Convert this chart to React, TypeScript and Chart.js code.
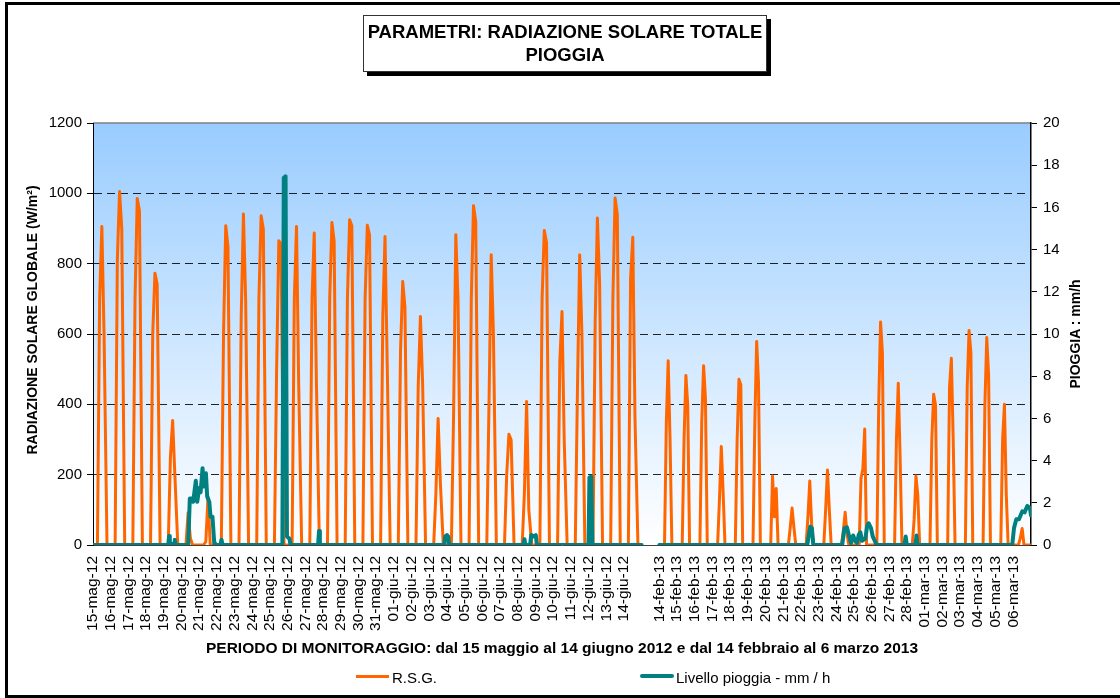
import React, { useEffect, useRef } from 'react';
import { Chart, registerables } from 'chart.js';

Chart.register(...registerables);

const FONT = "'Liberation Sans', Arial, Helvetica, sans-serif";

// Category (day) labels; one empty slot marks the interruption between the two campaigns
const dayLabels = [
  '15-mag-12', '16-mag-12', '17-mag-12', '18-mag-12', '19-mag-12', '20-mag-12', '21-mag-12', '22-mag-12',
  '23-mag-12', '24-mag-12', '25-mag-12', '26-mag-12', '27-mag-12', '28-mag-12', '29-mag-12', '30-mag-12',
  '31-mag-12', '01-giu-12', '02-giu-12', '03-giu-12', '04-giu-12', '05-giu-12', '06-giu-12', '07-giu-12',
  '08-giu-12', '09-giu-12', '10-giu-12', '11-giu-12', '12-giu-12', '13-giu-12', '14-giu-12', '',
  '14-feb-13', '15-feb-13', '16-feb-13', '17-feb-13', '18-feb-13', '19-feb-13', '20-feb-13', '21-feb-13',
  '22-feb-13', '23-feb-13', '24-feb-13', '25-feb-13', '26-feb-13', '27-feb-13', '28-feb-13', '01-mar-13',
  '02-mar-13', '03-mar-13', '04-mar-13', '05-mar-13', '06-mar-13',
];

// Hours of the day at which the radiation samples are placed (0 at sunrise / sunset)
const hoursSummer = [6, 9, 12, 15, 19];
const hoursWinter = [7, 9.5, 12, 14.5, 17];

// R.S.G. (W/m2) per day: mid-morning, midday, mid-afternoon
const rsgMorning = [
  700, 810, 700, 600, 250, 92, 10, 600, 650, 700, 500, 700, 700, 700, 700, 700,
  650, 550, 450, 147, 376, 700, 400, 200, 147, 700, 520, 450, 636, 700, 758, null,
  350, 300, 350, 128, 300, 350, 196, 50, 80, 100, 40, 190, 400, 300, 72, 300,
  449, 450, 400, 300, 20,
];
const rsgNoon = [
  906, 1005, 985, 773, 354, 20, 137, 908, 941, 936, 865, 906, 887, 917, 925, 909,
  877, 749, 650, 360, 882, 965, 825, 315, 408, 894, 664, 825, 930, 987, 875, null,
  524, 482, 510, 280, 471, 579, 80, 105, 182, 213, 93, 216, 634, 460, 196, 429,
  531, 610, 590, 400, 47,
];
const rsgAfternoon = [
  600, 900, 950, 742, 200, 0, 0, 850, 700, 898, 857, 450, 460, 865, 908, 882,
  512, 678, 459, 180, 700, 920, 600, 299, 100, 860, 300, 600, 745, 940, 358, null,
  300, 398, 418, 150, 455, 460, 161, 50, 60, 100, 30, 330, 546, 250, 142, 398,
  300, 546, 484, 142, 0,
];

// Rain level (mm/h): [time in days from 15-mag-12 00:00 (slot units), value]
const rainSamples: [number, number | null][] = [
  [0, 0], [4.26, 0], [4.3, 0.43], [4.34, 0.1], [4.58, 0], [4.62, 0.25], [4.66, 0],
  [5.38, 0], [5.47, 2.2], [5.57, 2.2], [5.66, 2.05], [5.81, 3.04], [5.89, 2.05], [6.0, 2.7],
  [6.08, 2.5], [6.19, 3.64], [6.26, 2.77], [6.38, 3.4], [6.45, 2.3], [6.57, 2.05], [6.64, 1.34],
  [6.75, 1.34], [6.85, 0.1], [6.89, 0],
  [7.2, 0], [7.26, 0.25], [7.32, 0],
  [10.7, 0], [10.78, 17.4], [10.88, 17.47], [10.96, 0.4], [11.1, 0.3], [11.16, 0],
  [12.72, 0], [12.77, 0.66], [12.82, 0],
  [19.85, 0], [19.9, 0.4], [20.0, 0.47], [20.07, 0.4], [20.12, 0],
  [24.33, 0], [24.38, 0.27], [24.43, 0], [24.7, 0], [24.76, 0.47], [24.9, 0.4], [25.02, 0.47], [25.08, 0],
  [28.0, 0], [28.05, 3.2], [28.15, 3.24], [28.22, 0],
  [31, 0], [31.5, null], [32, 0],
  [40.36, 0], [40.45, 0.5], [40.53, 0.87], [40.62, 0.8], [40.7, 0],
  [42.33, 0], [42.46, 0.8], [42.6, 0.84], [42.7, 0.5], [42.83, 0.1], [42.95, 0.45], [43.06, 0.2],
  [43.17, 0.1], [43.27, 0.5], [43.36, 0.6], [43.45, 0.2], [43.64, 0.3], [43.74, 0.9], [43.83, 1.03],
  [43.96, 0.8], [44.06, 0.4], [44.17, 0.2], [44.27, 0],
  [45.85, 0], [45.92, 0.4], [45.98, 0],
  [46.48, 0], [46.53, 0.45], [46.58, 0],
  [51.94, 0], [52.04, 0.8], [52.17, 1.22], [52.32, 1.22], [52.51, 1.6], [52.64, 1.55], [52.79, 1.85],
  [52.94, 1.75], [53, 1.4],
];

const leftTicks = { min: 0, max: 1200, step: 200 };
const rightTicks = { min: 0, max: 20, step: 2 };

function buildRsg() {
  const pts: { x: number; y: number | null }[] = [];
  dayLabels.forEach((_, d) => {
    if (rsgNoon[d] === null) {
      pts.push({ x: d, y: 0 });
      pts.push({ x: d + 0.5, y: null });
      return;
    }
    const hrs = d < 31 ? hoursSummer : hoursWinter;
    const vals = [0, rsgMorning[d], rsgNoon[d], rsgAfternoon[d], 0];
    pts.push({ x: d, y: 0 });
    hrs.forEach((h, k) => pts.push({ x: d + h / 24, y: vals[k] as number }));
  });
  pts.push({ x: dayLabels.length, y: 0 });
  return pts;
}

const plotBg = {
  id: 'plotBg',
  beforeDraw(chart: any) {
    const { ctx, chartArea: a } = chart;
    const g = ctx.createLinearGradient(0, a.top, 0, a.bottom);
    g.addColorStop(0, '#99CCFF');
    g.addColorStop(1, '#FFFFFF');
    ctx.save();
    ctx.fillStyle = g;
    ctx.fillRect(a.left, a.top, a.right - a.left, a.bottom - a.top);
    ctx.strokeStyle = '#7f7f7f';
    ctx.lineWidth = 1.5;
    ctx.beginPath();
    ctx.moveTo(a.left, a.top);
    ctx.lineTo(a.right, a.top);
    ctx.stroke();
    ctx.restore();
  },
};

export default function App() {
  const ref = useRef<HTMLCanvasElement>(null);

  useEffect(() => {
    if (!ref.current) return;
    const chart = new Chart(ref.current, {
      type: 'line',
      data: {
        datasets: [
          {
            label: 'R.S.G.',
            data: buildRsg() as any,
            borderColor: '#FF6600',
            borderWidth: 3,
            pointRadius: 0,
            tension: 0,
            spanGaps: false,
            borderJoinStyle: 'round',
            borderCapStyle: 'round',
            yAxisID: 'y',
            order: 1,
          },
          {
            label: 'Livello pioggia - mm / h',
            data: rainSamples.map(([x, y]) => ({ x, y })) as any,
            borderColor: '#008080',
            borderWidth: 4,
            pointRadius: 0,
            tension: 0,
            spanGaps: false,
            borderJoinStyle: 'round',
            borderCapStyle: 'round',
            yAxisID: 'y1',
            order: 0,
          },
        ],
      },
      options: {
        responsive: false,
        animation: false,
        layout: { padding: { left: 0, right: 0, top: 123, bottom: 0 } },
        plugins: { legend: { display: false }, tooltip: { enabled: false }, title: { display: false } },
        scales: {
          x: {
            type: 'linear',
            min: 0,
            max: dayLabels.length,
            afterBuildTicks: (s: any) => {
              s.ticks = dayLabels.map((_, i) => ({ value: i }));
            },
            afterFit: (s: any) => {
              s.height = 153;
            },
            ticks: {
              autoSkip: false,
              minRotation: 90,
              maxRotation: 90,
              padding: 11,
              color: '#000',
              font: { family: FONT, size: 15.5 },
              callback: (_v: any, i: number) => dayLabels[i] ?? '',
            },
            grid: { display: false, drawTicks: false },
            border: { display: true, color: '#404040', width: 1 },
          },
          y: {
            position: 'left',
            min: leftTicks.min,
            max: leftTicks.max,
            afterFit: (s: any) => {
              s.width = 93;
            },
            ticks: {
              stepSize: leftTicks.step,
              padding: 5,
              color: '#000',
              font: { family: FONT, size: 15 },
              callback: (v: any) => String(v),
            },
            grid: {
              color: (c: any) =>
                c.tick && (c.tick.value === leftTicks.min || c.tick.value === leftTicks.max)
                  ? 'rgba(0,0,0,0)'
                  : 'rgba(0,0,0,0.85)',
              lineWidth: 1,
              tickColor: '#000',
              tickLength: 6,
              tickWidth: 1,
            },
            border: { display: true, color: '#000', width: 1, dash: [8, 5] },
          },
          y1: {
            position: 'right',
            min: rightTicks.min,
            max: rightTicks.max,
            afterFit: (s: any) => {
              s.width = 89;
            },
            ticks: {
              stepSize: rightTicks.step,
              padding: 6,
              color: '#000',
              font: { family: FONT, size: 15 },
              callback: (v: any) => String(v),
            },
            grid: { drawOnChartArea: false, tickColor: '#000', tickLength: 6, tickWidth: 1 },
            border: { display: true, color: '#000', width: 1.5 },
          },
        },
      },
      plugins: [plotBg],
    });
    return () => chart.destroy();
  }, []);

  const bold14 = { fontFamily: FONT, fontWeight: 700, fontSize: 14, color: '#000', whiteSpace: 'nowrap' as const };

  return (
    <div style={{ position: 'fixed', left: 0, top: 0, width: 1120, height: 698, overflow: 'hidden', background: '#fff', fontFamily: FONT }}>
      <canvas ref={ref} width={1120} height={698} style={{ position: 'absolute', left: 0, top: 0, width: 1120, height: 698 }} />
      <div style={{ position: 'absolute', left: 5, top: 2, width: 1200, height: 696, border: '3px solid #000', boxSizing: 'border-box', pointerEvents: 'none' }} />
      <div
        style={{
          position: 'absolute', left: 363, top: 15, width: 404, height: 57, boxSizing: 'border-box',
          border: '1px solid #333', background: '#fff', boxShadow: '4px 4px 0 #000',
          textAlign: 'center', fontFamily: FONT, fontWeight: 700, fontSize: 18.5, lineHeight: '23px', paddingTop: 4, color: '#000',
          whiteSpace: 'nowrap',
        }}
      >
        <div>PARAMETRI: RADIAZIONE SOLARE TOTALE</div>
        <div>PIOGGIA</div>
      </div>
      <div style={{ ...bold14, position: 'absolute', left: 32, top: 320, transform: 'translate(-50%, -50%) rotate(-90deg)' }}>
        RADIAZIONE SOLARE GLOBALE (W/m²)
      </div>
      <div style={{ ...bold14, position: 'absolute', left: 1075, top: 334, transform: 'translate(-50%, -50%) rotate(-90deg)' }}>
        PIOGGIA : mm/h
      </div>
      <div style={{ ...bold14, fontSize: 15.5, position: 'absolute', left: 562, top: 648, transform: 'translate(-50%, -50%)' }}>
        PERIODO DI MONITORAGGIO: dal 15 maggio al 14 giugno 2012 e dal 14 febbraio al 6 marzo 2013
      </div>
      <div style={{ position: 'absolute', left: 356, top: 675, width: 33, height: 3, background: '#FF6600' }} />
      <div style={{ position: 'absolute', left: 392, top: 677, transform: 'translateY(-50%)', fontFamily: FONT, fontSize: 15, color: '#000', whiteSpace: 'nowrap' }}>
        R.S.G.
      </div>
      <div style={{ position: 'absolute', left: 640, top: 674, width: 34, height: 4, background: '#008080', borderRadius: 2 }} />
      <div style={{ position: 'absolute', left: 676, top: 677, transform: 'translateY(-50%)', fontFamily: FONT, fontSize: 15, color: '#000', whiteSpace: 'nowrap' }}>
        Livello pioggia - mm / h
      </div>
    </div>
  );
}
